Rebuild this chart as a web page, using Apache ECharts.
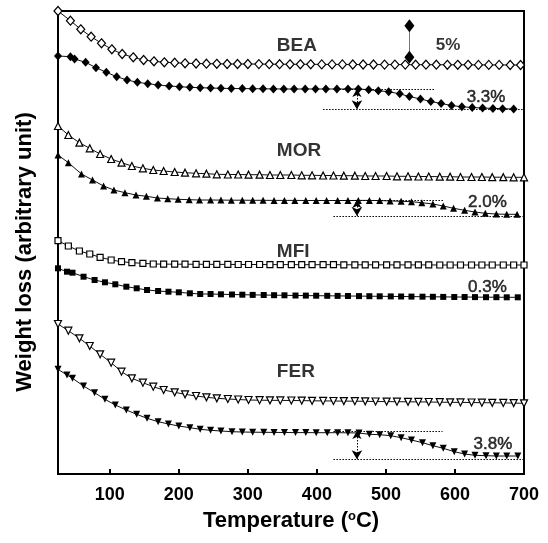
<!DOCTYPE html>
<html><head><meta charset="utf-8">
<script src="https://cdn.jsdelivr.net/npm/echarts@6/dist/echarts.min.js"></script>
<style>html,body{margin:0;padding:0;background:#fff}#c{width:548px;height:543px}</style>
</head><body><div id="c"></div>
<script>
// ---- data (temperature in °C, weight in arbitrary units) ----
const xTicks = [100, 200, 300, 400, 500, 600, 700];

const tempBEAopen = [25, 43, 58, 73, 88, 103, 118, 134, 149, 164, 179, 194, 209, 225, 240, 255, 270, 285, 300, 316, 331, 346, 361, 376, 391, 407, 422, 437, 452, 467, 482, 498, 513, 528, 543, 558, 573, 589, 604, 619, 634, 649, 664, 680, 695];
const beaOpen = [463, 453.3, 444.7, 437.3, 430.7, 424.7, 420, 416.7, 414, 412.7, 411.7, 411.3, 410.7, 410.5, 410.3, 410.2, 410, 410, 410, 409.9, 409.8, 409.8, 409.7, 409.7, 409.7, 409.6, 409.6, 409.6, 409.5, 409.5, 409.5, 409.4, 409.4, 409.4, 409.3, 409.3, 409.3, 409.2, 409.2, 409.2, 409.1, 409.1, 409.1, 409, 409];

const tempBEAfilled = [25, 43, 49, 65, 80, 95, 110, 125, 140, 155, 170, 186, 201, 216, 231, 246, 261, 276, 292, 307, 322, 337, 352, 367, 383, 398, 413, 429, 445, 460, 475, 489, 504, 520, 534, 550, 565, 580, 595, 610, 625, 640, 655, 669, 685];
const beaFilled = [418, 417.3, 415, 411.7, 406.3, 401.7, 397.3, 394, 391.7, 390.3, 389, 388, 387.3, 386.7, 386.3, 386, 385.7, 385.5, 385.4, 385.3, 385.2, 385.1, 385, 385, 385, 385, 385, 385, 385, 385, 384.3, 383.3, 382.2, 380.2, 377.5, 375, 372.5, 370.5, 368.5, 367.2, 366.5, 366, 365.6, 365.3, 365];

const tempOpen = [25, 40, 56, 71, 86, 102, 117, 132, 148, 163, 178, 194, 209, 225, 240, 255, 271, 286, 301, 317, 332, 347, 363, 378, 393, 409, 424, 439, 455, 470, 485, 501, 516, 532, 547, 562, 578, 593, 608, 624, 639, 654, 670, 685, 700];
const morOpen = [348, 339, 331.3, 325.7, 320, 315, 311.3, 308, 305.7, 304, 303, 302, 301.3, 300.7, 300.3, 299.7, 299.5, 299.5, 299.3, 299.3, 299, 299, 299, 298.7, 298.7, 298.5, 298.5, 298.3, 298.3, 298, 298, 298, 297.7, 297.7, 297.5, 297.5, 297.3, 297.3, 297, 297, 297, 296.8, 296.8, 296.7, 296.7];
const mfiOpen = [233.3, 228, 223, 220, 216.7, 214, 212.3, 211.3, 210.7, 210, 209.9, 209.8, 209.8, 209.7, 209.7, 209.6, 209.6, 209.5, 209.5, 209.5, 209.4, 209.4, 209.4, 209.3, 209.3, 209.3, 209.3, 209.2, 209.2, 209.2, 209.2, 209.1, 209.1, 209.1, 209.1, 209.1, 209, 209, 209, 209, 209, 209, 209, 209, 209];
const ferOpen = [150, 143.3, 135.7, 128, 119.7, 111.3, 102.3, 95.7, 91.3, 87.3, 84, 81.7, 79.7, 78, 76.7, 75.7, 75, 74.5, 74, 73.8, 73.7, 73.6, 73.5, 73.4, 73.2, 73.1, 73, 72.9, 72.8, 72.7, 72.5, 72.4, 72.3, 72.2, 72.1, 72, 71.8, 71.7, 71.6, 71.5, 71.3, 71.2, 71.1, 70.9, 70.7];

const tempMORfilled = [25, 40, 59, 75, 91, 106, 122, 138, 153, 169, 184, 199, 215, 230, 246, 261, 276, 292, 307, 322, 338, 353, 368, 384, 399, 414, 430, 445, 460, 476, 491, 506, 522, 537, 552, 568, 583, 598, 614, 629, 644, 660, 675, 690];
const morFilled = [319, 311.3, 300, 294, 288, 284, 281.3, 279, 277.7, 276, 275.3, 274.7, 274.3, 274, 274, 273.9, 273.8, 273.8, 273.7, 273.7, 273.6, 273.6, 273.6, 273.5, 273.5, 273.5, 273.5, 273.5, 273.6, 273.6, 273.4, 273.1, 272.7, 272.3, 271.3, 270, 268, 265.7, 263.7, 262, 260.7, 260, 259.7, 259.7];

const tempFilled = [25, 38, 46, 62, 78, 93, 108, 124, 139, 154, 170, 185, 200, 216, 231, 246, 261, 277, 292, 307, 323, 338, 353, 369, 384, 399, 415, 430, 445, 461, 476, 491, 507, 522, 537, 553, 568, 583, 599, 614, 629, 645, 660, 675, 691];
const mfiFilled = [205.7, 202.3, 201.3, 197.3, 194, 191.7, 189.7, 187.3, 185.7, 184, 183, 182.3, 181.7, 180.7, 180, 180, 179.7, 179.5, 179.3, 179.1, 179, 178.8, 178.7, 178.5, 178.4, 178.3, 178.2, 178.1, 178, 177.9, 177.8, 177.7, 177.6, 177.5, 177.4, 177.3, 177.2, 177.1, 177, 177, 176.9, 176.8, 176.8, 176.7, 176.7];
const ferFilled = [104.7, 99, 95.7, 88, 81.3, 74.7, 69, 64, 59.7, 55.7, 52.3, 50, 48, 46.3, 44.7, 43.7, 43, 42.3, 42, 41.8, 41.7, 41.6, 41.5, 41.4, 41.4, 41.3, 41.3, 41.3, 41.2, 41, 39.7, 39.3, 38.3, 36.3, 34, 31.3, 28.3, 25.7, 22.3, 20, 18.7, 18.3, 18, 18, 18];

const zeoliteNames = ['BEA', 'MOR', 'MFI', 'FER'];
const lossTexts = ['3.3%', '2.0%', '0.3%', '3.8%'];
const scaleText = '5%';

// ---- annotation placement (data coordinates) ----
const nameAnchors = [[342, 428], [342, 323], [342, 222], [342, 102]];
const lossAnchors = [[645, 377], [647, 271.5], [647, 186.5], [655, 30]];
const scaleAnchor = [590, 428.5];
const scaleBar = [534, 448.3, 416.7];
const stepLines = [ // [xStartUpper, xEndUpper, yUpper, xStartLower, yLower]
  [424, 570, 385, 409, 364.7],
  [424, 583, 274, 424, 258],
  [424, 582, 43, 424, 14.7]
];
const arrowT = 458;

const FONT = '"Liberation Sans", Arial, Helvetica, sans-serif';
const pair = (ts, vs) => ts.map((t, i) => [t, vs[i]]);
function curve(name, ts, vs, symbol, size, filled, rotate) {
  return {
    type: 'line', name, data: pair(ts, vs),
    symbol, symbolSize: size, symbolRotate: rotate || 0,
    showSymbol: true, clip: false, z: 3,
    lineStyle: { color: '#111', width: 1 },
    itemStyle: { color: filled ? '#000' : '#fff', borderColor: '#000', borderWidth: filled ? 0 : 1.2 },
    emphasis: { disabled: true }
  };
}

const annData = [];
zeoliteNames.forEach((n, i) => annData.push({
  value: nameAnchors[i], name: n,
  label: { show: true, position: 'right', distance: 0, formatter: '{b}', fontSize: 19, fontWeight: 'bold', color: '#000', fontFamily: FONT }
}));
lossTexts.forEach((n, i) => annData.push({
  value: lossAnchors[i], name: n,
  label: { show: true, position: 'inside', formatter: '{b}', fontSize: 17, fontWeight: 'normal', color: '#000', textBorderColor: '#000', textBorderWidth: 0.5, fontFamily: FONT }
}));
annData.push({
  value: scaleAnchor, name: scaleText,
  label: { show: true, position: 'inside', formatter: '{b}', fontSize: 17, fontWeight: 'bold', color: '#000', fontFamily: FONT }
});

const mlData = [];
stepLines.forEach(s => {
  mlData.push([{ coord: [s[0], s[2]] }, { coord: [s[1], s[2]] }]);
  mlData.push([{ coord: [s[3], s[4]] }, { coord: [700, s[4]] }]);
  mlData.push([{ coord: [arrowT, s[2]], symbol: 'arrow', symbolSize: [7, 8] }, { coord: [arrowT, s[4]], symbol: 'arrow', symbolSize: [8, 9] }]);
});
mlData.push([{ coord: [scaleBar[0], scaleBar[1]], lineStyle: { type: 'solid', color: '#777', width: 1 } },
             { coord: [scaleBar[0], scaleBar[2]] }]);

const option = {
  animation: false,
  backgroundColor: '#fff',
  textStyle: { fontFamily: FONT },
  grid: { left: 58, right: 24, top: 11, bottom: 69, show: true, borderColor: '#000', borderWidth: 2, backgroundColor: 'transparent' },
  xAxis: {
    type: 'value', min: 25, max: 700,
    axisLine: { show: true, lineStyle: { color: '#000', width: 2 } },
    axisTick: { show: true, inside: true, length: 5, lineStyle: { color: '#000', width: 2 }, customValues: xTicks },
    axisLabel: { show: true, customValues: xTicks, fontSize: 18, fontWeight: 'bold', color: '#000', margin: 12, fontFamily: FONT },
    splitLine: { show: false },
    name: 'Temperature ({s|o}C)', nameLocation: 'middle', nameGap: 36,
    nameTextStyle: {
      fontSize: 22, fontWeight: 'bold', color: '#000', fontFamily: FONT,
      rich: { s: { fontSize: 13, fontWeight: 'bold', color: '#000', fontFamily: FONT, verticalAlign: 'top', lineHeight: 10 } }
    }
  },
  yAxis: {
    type: 'value', min: 0, max: 463,
    axisLine: { show: true, lineStyle: { color: '#000', width: 2 } },
    axisTick: { show: false }, axisLabel: { show: false }, splitLine: { show: false }
  },
  graphic: [{
    type: 'text', x: 25, y: 252, rotation: Math.PI / 2,
    style: { text: 'Weight loss (arbitrary unit)', font: 'bold 22px ' + FONT, fill: '#000', align: 'center', verticalAlign: 'middle' }
  }],
  series: [
    curve('BEA fresh', tempBEAopen, beaOpen, 'diamond', [8, 9], false),
    curve('BEA used', tempBEAfilled, beaFilled, 'diamond', [8, 9], true),
    curve('MOR fresh', tempOpen, morOpen, 'triangle', 7, false),
    curve('MOR used', tempMORfilled, morFilled, 'triangle', 7, true),
    curve('MFI fresh', tempOpen, mfiOpen, 'rect', 6, false),
    curve('MFI used', tempFilled, mfiFilled, 'rect', 6, true),
    curve('FER fresh', tempOpen, ferOpen, 'triangle', 7, false, 180),
    curve('FER used', tempFilled, ferFilled, 'triangle', 7, true, 180),
    {
      type: 'scatter', name: 'annotations', data: annData, symbolSize: 0, silent: true, z: 5,
      markLine: {
        silent: true, symbol: ['none', 'none'], label: { show: false },
        lineStyle: { type: [1.5, 1.5], color: '#000', width: 1 },
        emphasis: { disabled: true },
        data: mlData
      },
      markPoint: {
        silent: true, symbol: 'diamond', symbolSize: [10, 13],
        itemStyle: { color: '#000' }, label: { show: false },
        data: [{ coord: [scaleBar[0], scaleBar[1]] }, { coord: [scaleBar[0], scaleBar[2]] }]
      }
    }
  ]
};
const chart = echarts.init(document.getElementById('c'), null, { renderer: 'canvas' });
chart.setOption(option);
</script>
</body></html>
